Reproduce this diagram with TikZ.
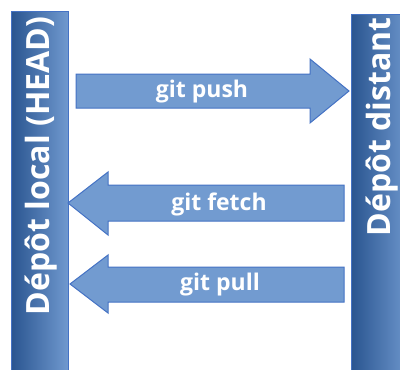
\documentclass[tikz,border=0pt]{standalone}
\usepackage{fontspec}
\setmainfont{Open Sans}
\usetikzlibrary{positioning}
\definecolor{bardark}{HTML}{2A5590}
\definecolor{barlight}{HTML}{7099CF}
\definecolor{arrowfill}{HTML}{729BD0}
\definecolor{arrowline}{HTML}{4472C4}

\begin{document}
\begin{tikzpicture}[x=1pt,y=-1pt,
                    depot/.style={left color=bardark,right color=barlight,draw=arrowline,line width=0.6pt,inner sep=0pt,anchor=north west},
                    depot text/.style={text=white,font=\bfseries\fontsize{32}{34}\selectfont,rotate=90},
                    cmd/.style={fill=arrowfill,draw=arrowline,line width=1pt,line join=miter},
                    cmd text/.style={text=white,font=\bfseries\fontsize{23}{25}\selectfont}]
\useasboundingbox (0,0) rectangle (400,370);

\node[depot,minimum width=57pt,minimum height=362pt] (local) at (11,11) {};
\node[depot,minimum width=60pt,minimum height=360pt] (remote) at (351,14) {};
\node[depot text] (localname) at (41,166) {Dépôt local (HEAD)};
\node[depot text] (remotename) at (382,127) {Dépôt distant};

% push
\draw[cmd] (76,74) -- (310,74) -- (310,59) -- (349,91) -- (310,123) -- (310,108) -- (76,108) -- cycle;
\node[cmd text] (push) at (202,92) {git push};
% fetch
\draw[cmd] (344,185) -- (108,185) -- (108,172) -- (68,203) -- (108,235) -- (108,221) -- (344,221) -- cycle;
\node[cmd text] (fetch) at (219,204) {git fetch};
% pull
\draw[cmd] (344,267) -- (108,267) -- (108,255) -- (70,284) -- (108,313) -- (108,302) -- (344,302) -- cycle;
\node[cmd text] (pull) at (220,285) {git pull};
\end{tikzpicture}
\end{document}
